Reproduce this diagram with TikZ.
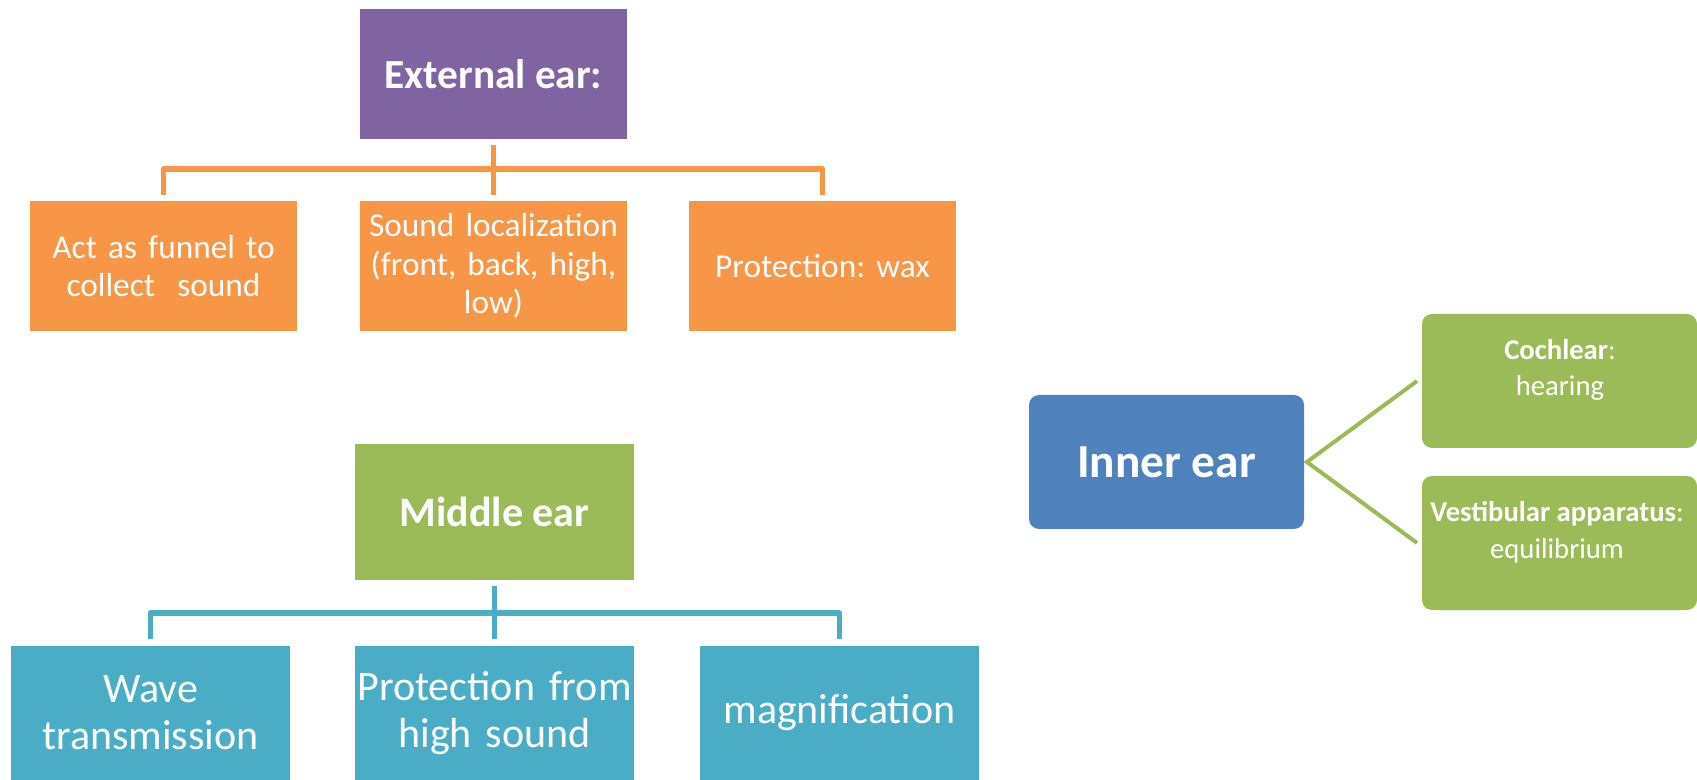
\documentclass[tikz,border=0pt]{standalone}
\usepackage{fontspec}
\setmainfont{Carlito}
\frenchspacing
\definecolor{cpurple}{HTML}{8064A2}
\definecolor{corange}{HTML}{F79646}
\definecolor{cgreen}{HTML}{9BBB59}
\definecolor{cblue}{HTML}{4BACC6}
\definecolor{cdblue}{HTML}{4F81BD}
\tikzset{
  box/.style={rectangle, draw=none, text=white, align=center, inner sep=0pt},
  obox/.style={box, fill=corange, minimum width=200.25pt, minimum height=97.5pt, text width=195pt, font=\fontsize{25}{29}\selectfont},
  bbox/.style={box, fill=cblue, minimum width=209.25pt, minimum height=100.5pt, text width=209pt, font=\fontsize{31.5}{35}\selectfont},
  gbox/.style={box, fill=cgreen, rounded corners=7.5pt, minimum width=206.25pt, minimum height=100.5pt},
  gtext/.style={text=white, align=center, inner sep=0pt, font=\fontsize{21.5}{27.5}\selectfont},
  oline/.style={draw=corange, line width=4.2pt, line join=round},
  bline/.style={draw=cblue, line width=4.2pt, line join=round},
  gline/.style={draw=cgreen, line width=3pt},
}
\begin{document}
\begin{tikzpicture}[x=0.75pt, y=-0.75pt]
\useasboundingbox (0,0) rectangle (1697,780);
% External ear
\node[box, fill=cpurple, minimum width=200.25pt, minimum height=97.5pt, font=\bfseries\fontsize{31}{36}\selectfont] (ext) at (493.5,74) {External ear:};
\node[obox] (o1) at (163.5,266) {Act as funnel to\\collect\ \ sound};
\node[obox] (o2) at (493.5,266) {Sound localization\\(front, back, high,\\low)};
\node[obox] (o3) at (822.5,266) {Protection: wax};
\draw[oline] ([yshift=-4pt]ext.south) -- ([yshift=4.5pt]o2.north);
\draw[oline] ([yshift=4.5pt]o1.north) -- ++(0,-25.5) -| ([yshift=4.5pt]o3.north);
% Middle ear
\node[box, fill=cgreen, minimum width=209.25pt, minimum height=102pt, font=\bfseries\fontsize{31.5}{36}\selectfont] (mid) at (494.5,512) {Middle ear};
\node[bbox] (b1) at (150.5,713) {Wave\\transmission};
\node[bbox] (b2) at (494.5,713) {Protection from\\high sound};
\node[bbox] (b3) at (839.5,713) {magnification};
\draw[bline] ([yshift=-4pt]mid.south) -- ([yshift=5pt]b2.north);
\draw[bline] ([yshift=5pt]b1.north) -- ++(0,-26) -| ([yshift=5pt]b3.north);
% Inner ear
\node[box, fill=cdblue, rounded corners=7.5pt, minimum width=206.25pt, minimum height=100.5pt, font=\bfseries\fontsize{35.5}{40}\selectfont] (inner) at (1166.5,462) {Inner ear};
\node[gbox] (coch) at (1559.5,381) {};
\node[gbox] (vest) at (1559.5,543) {};
\node[gtext] (cochT) at (1560,370) {\textbf{Cochlear}:\\hearing};
\node[gtext] (vestT) at (1557,532) {\textbf{Vestibular apparatus}:\\equilibrium};
\draw[gline] ([xshift=-3.5pt]coch.west) -- ([xshift=2pt]inner.east) -- ([xshift=-3.5pt]vest.west);
\end{tikzpicture}
\end{document}
